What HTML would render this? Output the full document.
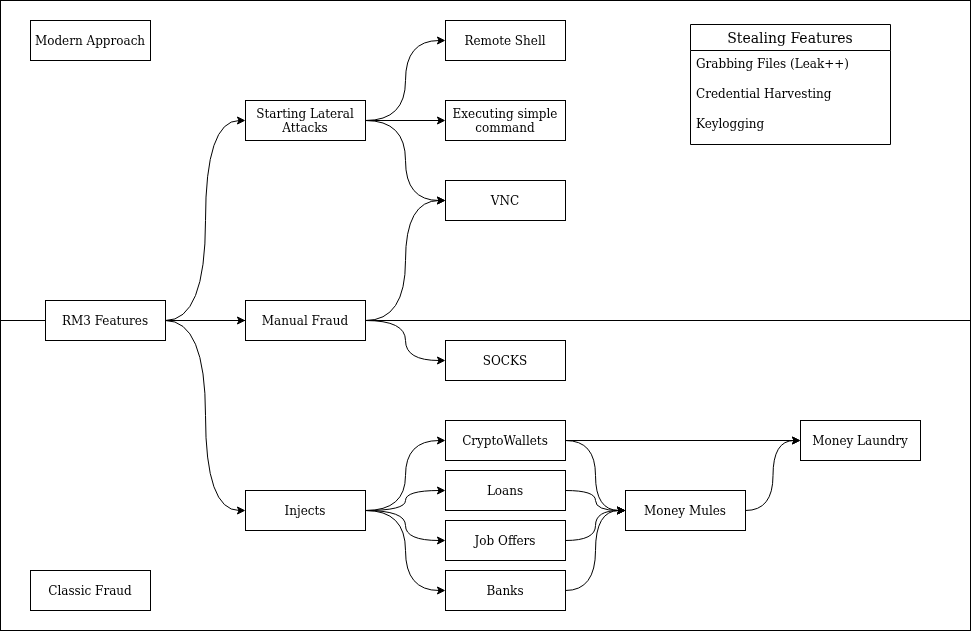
<!DOCTYPE html>
<html><head><meta charset="utf-8"><title>RM3 Features</title>
<style>
html,body{margin:0;padding:0;background:#fff}
#d{will-change:transform;position:relative;width:972px;height:631px;overflow:hidden;background:#fff;font-family:"DejaVu Serif","Liberation Serif",serif;color:#000;font-size:12px;line-height:1.2}
svg{position:absolute;left:0;top:0}
.l{position:absolute;width:118px;height:40px;display:flex;align-items:center;justify-content:center;text-align:center;white-space:nowrap}
.t{position:absolute;display:flex;align-items:center;justify-content:center;font-size:14px;white-space:nowrap}
.i{position:absolute;height:26px;display:flex;align-items:center;white-space:nowrap}
</style></head><body>
<div id="d">
<svg width="972" height="631" viewBox="-0.5 -0.5 972 631">
<g>
<rect x="0" y="0" width="970" height="320" fill="#fff" stroke="#000"/>
<rect x="0" y="320" width="970" height="310" fill="#fff" stroke="#000"/>
<path d="M 165 320 Q 205 320 205 220.0 Q 205 120 238.63 120" fill="none" stroke="#000" stroke-miterlimit="10"/><path d="M 243.88 120 L 236.88 123.5 L 238.63 120 L 236.88 116.5 Z" fill="#000" stroke="#000" stroke-miterlimit="10"/>
<path d="M 165 320 L 238.63 320" fill="none" stroke="#000" stroke-miterlimit="10"/><path d="M 243.88 320 L 236.88 323.5 L 238.63 320 L 236.88 316.5 Z" fill="#000" stroke="#000" stroke-miterlimit="10"/>
<path d="M 165 320 Q 205 320 205 415.0 Q 205 510 238.63 510" fill="none" stroke="#000" stroke-miterlimit="10"/><path d="M 243.88 510 L 236.88 513.5 L 238.63 510 L 236.88 506.5 Z" fill="#000" stroke="#000" stroke-miterlimit="10"/>
<path d="M 365 120 Q 405 120 405 80.0 Q 405 40 438.63 40" fill="none" stroke="#000" stroke-miterlimit="10"/><path d="M 443.88 40 L 436.88 43.5 L 438.63 40 L 436.88 36.5 Z" fill="#000" stroke="#000" stroke-miterlimit="10"/>
<path d="M 365 120 L 438.63 120" fill="none" stroke="#000" stroke-miterlimit="10"/><path d="M 443.88 120 L 436.88 123.5 L 438.63 120 L 436.88 116.5 Z" fill="#000" stroke="#000" stroke-miterlimit="10"/>
<path d="M 365 120 Q 405 120 405 160.0 Q 405 200 438.63 200" fill="none" stroke="#000" stroke-miterlimit="10"/><path d="M 443.88 200 L 436.88 203.5 L 438.63 200 L 436.88 196.5 Z" fill="#000" stroke="#000" stroke-miterlimit="10"/>
<path d="M 365 320 Q 405 320 405 260.0 Q 405 200 438.63 200" fill="none" stroke="#000" stroke-miterlimit="10"/><path d="M 443.88 200 L 436.88 203.5 L 438.63 200 L 436.88 196.5 Z" fill="#000" stroke="#000" stroke-miterlimit="10"/>
<path d="M 365 320 Q 405 320 405 340.0 Q 405 360 438.63 360" fill="none" stroke="#000" stroke-miterlimit="10"/><path d="M 443.88 360 L 436.88 363.5 L 438.63 360 L 436.88 356.5 Z" fill="#000" stroke="#000" stroke-miterlimit="10"/>
<path d="M 365 510 Q 405 510 405 475.0 Q 405 440 438.63 440" fill="none" stroke="#000" stroke-miterlimit="10"/><path d="M 443.88 440 L 436.88 443.5 L 438.63 440 L 436.88 436.5 Z" fill="#000" stroke="#000" stroke-miterlimit="10"/>
<path d="M 365 510 Q 405 510 405 500.0 Q 405 490 438.63 490" fill="none" stroke="#000" stroke-miterlimit="10"/><path d="M 443.88 490 L 436.88 493.5 L 438.63 490 L 436.88 486.5 Z" fill="#000" stroke="#000" stroke-miterlimit="10"/>
<path d="M 365 510 Q 405 510 405 525.0 Q 405 540 438.63 540" fill="none" stroke="#000" stroke-miterlimit="10"/><path d="M 443.88 540 L 436.88 543.5 L 438.63 540 L 436.88 536.5 Z" fill="#000" stroke="#000" stroke-miterlimit="10"/>
<path d="M 365 510 Q 405 510 405 550.0 Q 405 590 438.63 590" fill="none" stroke="#000" stroke-miterlimit="10"/><path d="M 443.88 590 L 436.88 593.5 L 438.63 590 L 436.88 586.5 Z" fill="#000" stroke="#000" stroke-miterlimit="10"/>
<path d="M 565 440 L 793.63 440" fill="none" stroke="#000" stroke-miterlimit="10"/><path d="M 798.88 440 L 791.88 443.5 L 793.63 440 L 791.88 436.5 Z" fill="#000" stroke="#000" stroke-miterlimit="10"/>
<path d="M 565 440 Q 595 440 595 475.0 Q 595 510 618.63 510" fill="none" stroke="#000" stroke-miterlimit="10"/><path d="M 623.88 510 L 616.88 513.5 L 618.63 510 L 616.88 506.5 Z" fill="#000" stroke="#000" stroke-miterlimit="10"/>
<path d="M 565 490 Q 595 490 595 500.0 Q 595 510 618.63 510" fill="none" stroke="#000" stroke-miterlimit="10"/><path d="M 623.88 510 L 616.88 513.5 L 618.63 510 L 616.88 506.5 Z" fill="#000" stroke="#000" stroke-miterlimit="10"/>
<path d="M 565 540 Q 595 540 595 525.0 Q 595 510 618.63 510" fill="none" stroke="#000" stroke-miterlimit="10"/><path d="M 623.88 510 L 616.88 513.5 L 618.63 510 L 616.88 506.5 Z" fill="#000" stroke="#000" stroke-miterlimit="10"/>
<path d="M 565 590 Q 595 590 595 550.0 Q 595 510 618.63 510" fill="none" stroke="#000" stroke-miterlimit="10"/><path d="M 623.88 510 L 616.88 513.5 L 618.63 510 L 616.88 506.5 Z" fill="#000" stroke="#000" stroke-miterlimit="10"/>
<path d="M 745 510 Q 772.5 510 772.5 475.0 Q 772.5 440 793.63 440" fill="none" stroke="#000" stroke-miterlimit="10"/><path d="M 798.88 440 L 791.88 443.5 L 793.63 440 L 791.88 436.5 Z" fill="#000" stroke="#000" stroke-miterlimit="10"/>
<rect x="30" y="20" width="120" height="40" fill="#fff" stroke="#000"/>
<rect x="45" y="300" width="120" height="40" fill="#fff" stroke="#000"/>
<rect x="245" y="100" width="120" height="40" fill="#fff" stroke="#000"/>
<rect x="245" y="300" width="120" height="40" fill="#fff" stroke="#000"/>
<rect x="245" y="490" width="120" height="40" fill="#fff" stroke="#000"/>
<rect x="445" y="20" width="120" height="40" fill="#fff" stroke="#000"/>
<rect x="445" y="100" width="120" height="40" fill="#fff" stroke="#000"/>
<rect x="445" y="180" width="120" height="40" fill="#fff" stroke="#000"/>
<rect x="445" y="340" width="120" height="40" fill="#fff" stroke="#000"/>
<rect x="445" y="420" width="120" height="40" fill="#fff" stroke="#000"/>
<rect x="445" y="470" width="120" height="40" fill="#fff" stroke="#000"/>
<rect x="445" y="520" width="120" height="40" fill="#fff" stroke="#000"/>
<rect x="445" y="570" width="120" height="40" fill="#fff" stroke="#000"/>
<rect x="625" y="490" width="120" height="40" fill="#fff" stroke="#000"/>
<rect x="800" y="420" width="120" height="40" fill="#fff" stroke="#000"/>
<rect x="30" y="570" width="120" height="40" fill="#fff" stroke="#000"/>
<path d="M 690 50 L 690 24 L 890 24 L 890 50" fill="#fff" stroke="#000" stroke-miterlimit="10"/>
<path d="M 690 50 L 690 144 L 890 144 L 890 50" fill="none" stroke="#000" stroke-miterlimit="10"/>
<path d="M 690 50 L 890 50" fill="none" stroke="#000" stroke-miterlimit="10"/>
</g>
</svg>
<div class="l" style="left:31px;top:21px"><span>Modern Approach</span></div>
<div class="l" style="left:46px;top:301px"><span>RM3 Features</span></div>
<div class="l" style="left:246px;top:101px"><span>Starting Lateral<br>Attacks</span></div>
<div class="l" style="left:246px;top:301px"><span>Manual Fraud</span></div>
<div class="l" style="left:246px;top:491px"><span>Injects</span></div>
<div class="l" style="left:446px;top:21px"><span>Remote Shell</span></div>
<div class="l" style="left:446px;top:101px"><span>Executing simple<br>command</span></div>
<div class="l" style="left:446px;top:181px"><span>VNC</span></div>
<div class="l" style="left:446px;top:341px"><span>SOCKS</span></div>
<div class="l" style="left:446px;top:421px"><span>CryptoWallets</span></div>
<div class="l" style="left:446px;top:471px"><span>Loans</span></div>
<div class="l" style="left:446px;top:521px"><span>Job Offers</span></div>
<div class="l" style="left:446px;top:571px"><span>Banks</span></div>
<div class="l" style="left:626px;top:491px"><span>Money Mules</span></div>
<div class="l" style="left:801px;top:421px"><span>Money Laundry</span></div>
<div class="l" style="left:31px;top:571px"><span>Classic Fraud</span></div>
<div class="t" style="left:691px;top:25px;width:198px;height:26px"><span>Stealing Features</span></div>
<div class="i" style="left:696px;top:51px">Grabbing Files (Leak++)</div>
<div class="i" style="left:696px;top:81px">Credential Harvesting</div>
<div class="i" style="left:696px;top:111px">Keylogging</div>
</div>
</body></html>
